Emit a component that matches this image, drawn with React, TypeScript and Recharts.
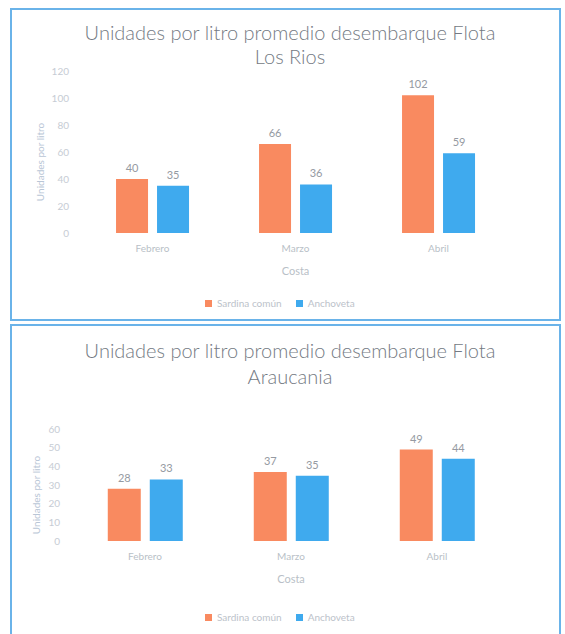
import React from 'react';
import { BarChart, Bar, XAxis, YAxis, LabelList, Label } from 'recharts';

const months = ['Febrero', 'Marzo', 'Abril'];
const seriesNames = ['Sardina común', 'Anchoveta'];
const losRiosSardina = [40, 66, 102];
const losRiosAnchoveta = [35, 36, 59];
const araucaniaSardina = [28, 37, 49];
const araucaniaAnchoveta = [33, 35, 44];
const losRiosTicks = [0, 20, 40, 60, 80, 100, 120];
const araucaniaTicks = [0, 10, 20, 30, 40, 50, 60];
const yTitle = 'Unidades por litro';
const xTitle = 'Costa';
const titleLine1 = 'Unidades por litro promedio desembarque Flota';

const ORANGE = '#F98A60';
const BLUE = '#3FAAEE';
const FONT = 'Lato, "Open Sans", sans-serif';

function build(a: number[], b: number[]) {
  return months.map((m, i) => ({ month: m, sardina: a[i], anchoveta: b[i] }));
}

type PanelProps = {
  top: number;
  height: number;
  line2: string;
  data: { month: string; sardina: number; anchoveta: number }[];
  ticks: number[];
  titleTop: number;
  lineH: number;
  chartTop: number;
  yWidth: number;
  chartH: number;
  yLabelX: number;
  legendY: number;
};

function Panel(p: PanelProps) {
  const yLabel = (props: any) => {
    const vb = props.viewBox || {};
    const cy = vb.y + vb.height / 2 + 10;
    return (
      <text
        x={p.yLabelX}
        y={cy}
        transform={`rotate(-90, ${p.yLabelX}, ${cy})`}
        textAnchor="middle"
        dominantBaseline="central"
        fill="#b9c6d6"
        fontSize={10}
        fontFamily={FONT}
      >
        {yTitle}
      </text>
    );
  };
  return (
    <div
      style={{
        position: 'absolute',
        left: 10,
        top: p.top,
        width: 551,
        height: p.height,
        boxSizing: 'border-box',
        border: '2px solid #6AB3E9',
        background: '#fff',
        overflow: 'hidden',
      }}
    >
      <div
        style={{
          position: 'absolute',
          left: 0,
          top: p.titleTop,
          width: 556,
          textAlign: 'center',
          fontFamily: FONT,
          fontSize: 20,
          fontWeight: 300,
          lineHeight: `${p.lineH}px`,
          color: '#747a83',
        }}
      >
        <div>{titleLine1}</div>
        <div>{p.line2}</div>
      </div>
      <div style={{ position: 'absolute', left: 0, top: 0 }}>
        <BarChart
          width={548}
          height={p.chartH}
          data={p.data}
          margin={{ top: p.chartTop, right: 50, left: 0, bottom: 0 }}
          barCategoryGap="24.5%"
          barGap={9}
        >
          <XAxis
            dataKey="month"
            axisLine={false}
            tickLine={false}
            tickSize={0}
            tickMargin={12}
            height={48}
            tick={{ fill: '#b9bfc7', fontSize: 10, fontFamily: FONT }}
          >
            <Label
              value={xTitle}
              position="insideBottom"
              offset={6}
              style={{ fill: '#b9bfc7', fontSize: 11, fontFamily: FONT }}
            />
          </XAxis>
          <YAxis
            width={p.yWidth}
            domain={[0, p.ticks[p.ticks.length - 1]]}
            ticks={p.ticks}
            axisLine={false}
            tickLine={false}
            tickSize={0}
            tickMargin={12}
            interval={0}
            tick={{ fill: '#c6ccd4', fontSize: 10, fontFamily: FONT }}
            label={yLabel}
          />
          <Bar dataKey="sardina" name={seriesNames[0]} fill={ORANGE} isAnimationActive={false}>
            <LabelList dataKey="sardina" position="top" offset={7} fill="#959aa2" fontSize={11} fontFamily={FONT} />
          </Bar>
          <Bar dataKey="anchoveta" name={seriesNames[1]} fill={BLUE} isAnimationActive={false}>
            <LabelList dataKey="anchoveta" position="top" offset={7} fill="#959aa2" fontSize={11} fontFamily={FONT} />
          </Bar>
        </BarChart>
      </div>
      <div
        style={{
          position: 'absolute',
          left: 193,
          top: p.legendY - 7,
          height: 14,
          display: 'flex',
          alignItems: 'center',
          fontFamily: FONT,
          fontSize: 10,
          color: '#bcc2ca',
          whiteSpace: 'nowrap',
        }}
      >
        <span style={{ width: 7, height: 7, background: ORANGE, display: 'inline-block', marginRight: 5 }} />
        <span style={{ marginRight: 14 }}>{seriesNames[0]}</span>
        <span style={{ width: 7, height: 7, background: BLUE, display: 'inline-block', marginRight: 5 }} />
        <span>{seriesNames[1]}</span>
      </div>
    </div>
  );
}

export default function App() {
  return (
    <div style={{ position: 'absolute', left: 0, top: 0, width: 565, height: 634, background: '#fff', overflow: 'hidden' }}>
      <Panel
        top={8}
        height={313}
        line2="Los Rios"
        data={build(losRiosSardina, losRiosAnchoveta)}
        ticks={losRiosTicks}
        titleTop={10}
        lineH={24}
        chartTop={61}
        yWidth={69}
        chartH={271}
        yLabelX={28}
        legendY={293}
      />
      <Panel
        top={324}
        height={320}
        line2="Araucania"
        data={build(araucaniaSardina, araucaniaAnchoveta)}
        ticks={araucaniaTicks}
        titleTop={11}
        lineH={26}
        chartTop={103}
        yWidth={60}
        chartH={263}
        yLabelX={24}
        legendY={291}
      />
    </div>
  );
}
